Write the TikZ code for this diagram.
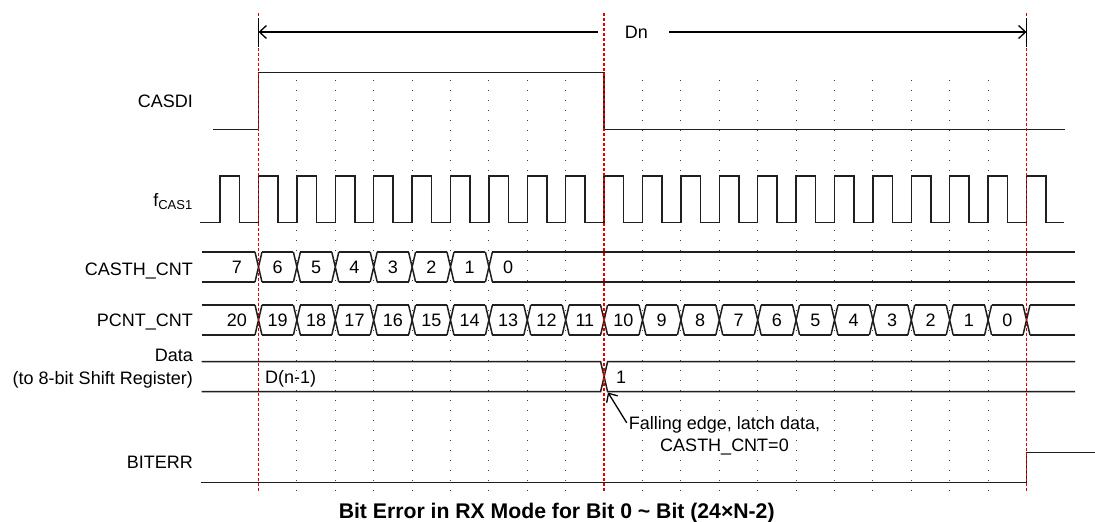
\documentclass[tikz,border=0pt]{standalone}
\usepackage{fontspec}
\setmainfont{Liberation Sans}
\usetikzlibrary{arrows.meta,calc}
\begin{document}
\begin{tikzpicture}[x=1pt,y=-1pt,
  sig/.style={line width=1.5pt, black!88, line join=miter},
  gridl/.style={line width=1pt, black!75, dash pattern=on 1pt off 9pt},
  redl/.style={line width=1.8pt, red!90!black, dash pattern=on 3pt off 2pt},
  lbl/.style={font=\fontsize{18}{21}\selectfont, anchor=base east, inner sep=0pt},
  val/.style={font=\fontsize{18}{21}\selectfont, inner sep=0pt},
  txt/.style={font=\fontsize{18}{21}\selectfont, inner sep=0pt, anchor=base},
  arr/.style={line width=1.3pt, black, -{Straight Barb[length=7pt,width=13pt,line width=1.3pt]}},
]
\useasboundingbox (0,0) rectangle (1095,522);
\fill[white] (0,0) rectangle (1095,522);

% dotted grid lines at clock rising edges
\foreach \k in {1,...,8,10,11,...,19}
  \draw[gridl] ({258.5+38.4*\k},80) -- ({258.5+38.4*\k},492);

% labels
\node[lbl] (lcasdi) at (193,107.5) {CASDI};
\node[lbl] (lclk) at (193,206) {f\textsubscript{\fontsize{13}{14}\selectfont CAS1}};
\node[lbl] (lcasth) at (193,275.5) {CASTH\_CNT};
\node[lbl] (lpcnt) at (193,326.5) {PCNT\_CNT};
\node[lbl] (ldata) at (193,361) {Data};
\node[lbl] (ldata2) at (193,384) {(to 8-bit Shift Register)};
\node[lbl] (lbiterr) at (193,468.5) {BITERR};

% CASDI
\draw[sig] (213,129.3) -- (258.5,129.3) -- (258.5,72.7) -- (604.1,72.7) -- (604.1,129.3) -- (1065,129.3);

% clock
\draw[sig] (200,222.5)
  \foreach \k in {-1,...,20} {
    -- ({258.5+38.4*\k},222.5) -- ({258.5+38.4*\k},176)
    -- ({278+38.4*\k},176) -- ({278+38.4*\k},222.5) }
  -- (1064,222.5);

% CASTH_CNT bus
\draw[sig] (201.7,252) -- (255,252) (201.7,282) -- (255,282);
\foreach \k in {0,...,6}
  \draw[sig] ({258.5+38.4*\k-3.5},252) -- ({258.5+38.4*\k+3.5},282)
             ({258.5+38.4*\k-3.5},282) -- ({258.5+38.4*\k+3.5},252);
\foreach \k in {0,...,5}
  \draw[sig] ({258.5+38.4*\k+3.5},252) -- ({258.5+38.4*\k+38.4-3.5},252)
             ({258.5+38.4*\k+3.5},282) -- ({258.5+38.4*\k+38.4-3.5},282);
\draw[sig] ({258.5+38.4*6+3.5},252) -- (1075,252) ({258.5+38.4*6+3.5},282) -- (1075,282);
\node[val] (c7) at (237,267) {7};
\foreach \v [count=\i from 0] in {6,5,4,3,2,1,0}
  \node[val] (c\v) at ({258.5+38.4*\i+19.2},267) {\v};

% PCNT_CNT bus
\draw[sig] (201.7,305) -- (255,305) (201.7,335) -- (255,335);
\foreach \k in {0,...,20}
  \draw[sig] ({258.5+38.4*\k-3.5},305) -- ({258.5+38.4*\k+3.5},335)
             ({258.5+38.4*\k-3.5},335) -- ({258.5+38.4*\k+3.5},305);
\foreach \k in {0,...,19}
  \draw[sig] ({258.5+38.4*\k+3.5},305) -- ({258.5+38.4*\k+38.4-3.5},305)
             ({258.5+38.4*\k+3.5},335) -- ({258.5+38.4*\k+38.4-3.5},335);
\draw[sig] ({258.5+38.4*20+3.5},305) -- (1075,305) ({258.5+38.4*20+3.5},335) -- (1075,335);
\node[val] (p20) at (237,320) {20};
\foreach \k in {0,...,19}{
  \pgfmathtruncatemacro{\v}{19-\k}
  \node[val] (p\v) at ({258.5+38.4*\k+19.2},320) {\v};
}

% Data bus
\draw[sig] (201.7,361.7) -- (600.6,361.7) -- (607.6,391.7) -- (1075,391.7)
           (201.7,391.7) -- (600.6,391.7) -- (607.6,361.7) -- (1075,361.7);
\node[txt, anchor=base west] (dold) at (265,383.5) {D(n-1)};
\node[txt] (dnew) at (621,383.5) {1};

% BITERR
\draw[sig] (200.7,482.7) -- (1026.5,482.7) -- (1026.5,452.7) -- (1095,452.7);

% red markers
\foreach \x in {258.5,604.1,1026.5}
  \draw[redl] (\x,13) -- (\x,492);

% Dn dimension
\node[font=\fontsize{18}{21}\selectfont, inner sep=0pt] (dn) at (636.3,32) {Dn};
\coordinate (dnL) at (258.5,32);
\coordinate (dnR) at (1026.5,32);
\draw[line width=1.4pt] (258.5,18) -- (258.5,47) (1026.5,18) -- (1026.5,47);
\draw[arr] ([xshift=-26.7pt]dn.west) -- (dnL);
\draw[arr] ([xshift=21.3pt]dn.east) -- (dnR);

% annotation
\node[txt] (fe1) at (724.5,429.3) {Falling edge, latch data,};
\node[txt] (fe2) at (724.5,451.7) {CASTH\_CNT=0};
\coordinate (latch) at (608,392.5);
\draw[arr] ([shift={(-2pt,6.5pt)}]fe1.base west) -- (latch);

% title
\node[font=\bfseries\fontsize{21.2}{24}\selectfont, inner sep=0pt, anchor=base] (title) at (556.7,518.3)
  {Bit Error in RX Mode for Bit 0 \char"7E{} Bit (24×N-2)};
\end{tikzpicture}
\end{document}
